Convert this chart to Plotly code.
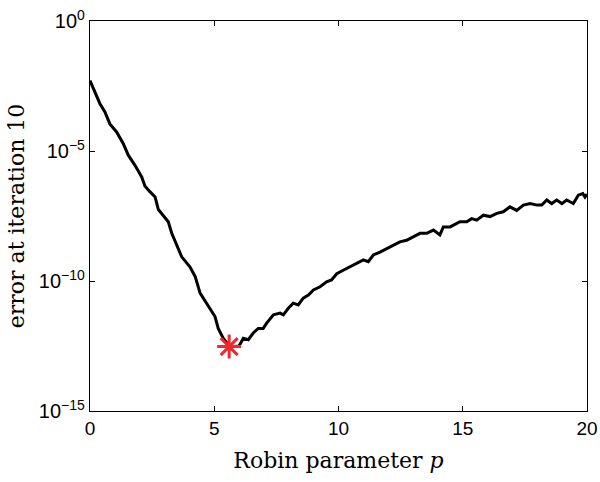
import plotly.graph_objects as go

p_vals = [0.00, 0.20, 0.40, 0.60, 0.80, 1.07, 1.34, 1.54, 1.81, 2.08, 2.21, 2.40, 2.62, 2.75,
          3.02, 3.15, 3.29, 3.50, 3.69, 4.02, 4.23, 4.43, 4.70, 5.03, 5.16, 5.36, 5.60, 5.80,
          6.00, 6.17, 6.37, 6.57, 6.77, 6.97, 7.11, 7.38, 7.65, 7.78, 7.98, 8.18, 8.38, 8.58,
          8.79, 8.99, 9.26, 9.52, 9.72, 9.93, 10.19, 10.46, 10.73, 11.00, 11.20, 11.40, 11.67,
          11.94, 12.20, 12.47, 12.74, 13.01, 13.28, 13.55, 13.82, 14.08, 14.22, 14.49, 14.62,
          14.89, 15.16, 15.36, 15.56, 15.83, 16.10, 16.37, 16.63, 16.90, 17.17, 17.44, 17.71,
          17.98, 18.18, 18.38, 18.58, 18.78, 18.99, 19.18, 19.45, 19.65, 19.83, 19.92, 20.00]
err_vals = [5.1e-3, 1.8e-3, 6.6e-4, 3.2e-4, 1.1e-4, 5.4e-5, 1.9e-5, 6.9e-6, 2.8e-6, 1.0e-6,
            4.5e-7, 2.8e-7, 1.7e-7, 5.6e-8, 2.6e-8, 1.9e-8, 6.8e-9, 2.2e-9, 8.5e-10, 3.5e-10,
            1.5e-10, 3.4e-11, 1.4e-11, 4.3e-12, 1.5e-12, 6.3e-13, 3.2e-13, 3.0e-13, 3.2e-13,
            6.3e-13, 5.5e-13, 1.0e-12, 1.5e-12, 1.5e-12, 2.4e-12, 5.0e-12, 5.8e-12, 5.0e-12,
            8.9e-12, 1.4e-11, 1.2e-11, 2.2e-11, 2.9e-11, 4.5e-11, 6.0e-11, 9.3e-11, 1.1e-10,
            1.9e-10, 2.6e-10, 3.5e-10, 4.8e-10, 6.5e-10, 5.5e-10, 1.0e-9, 1.3e-9, 1.8e-9,
            2.4e-9, 3.2e-9, 3.7e-9, 5.0e-9, 6.8e-9, 6.8e-9, 9.1e-9, 5.9e-9, 1.2e-8, 1.2e-8,
            1.4e-8, 1.9e-8, 1.9e-8, 2.5e-8, 2.2e-8, 3.4e-8, 3.0e-8, 4.0e-8, 4.6e-8, 7.1e-8,
            5.2e-8, 8.3e-8, 9.5e-8, 8.3e-8, 8.3e-8, 1.3e-7, 9.5e-8, 1.3e-7, 9.5e-8, 1.3e-7,
            9.5e-8, 2.0e-7, 2.3e-7, 1.7e-7, 2.2e-7]

opt_p = [5.6]
opt_err = [3.0e-13]

x_ticks = [0, 5, 10, 15, 20]
y_ticks = [1e-15, 1e-10, 1e-5, 1e0]
y_ticktext = ["10<sup>\u221215</sup>", "10<sup>\u221210</sup>", "10<sup>\u22125</sup>", "10<sup>0</sup>"]

fig = go.Figure()
fig.add_trace(go.Scatter(x=p_vals, y=err_vals, mode="lines",
                         line=dict(color="black", width=3), showlegend=False))
fig.add_trace(go.Scatter(x=opt_p, y=opt_err, mode="markers",
                         marker=dict(symbol="asterisk-open", size=20,
                                     line=dict(color="#f0282d", width=3), color="#f0282d"),
                         showlegend=False))

axis_common = dict(showline=True, linecolor="black", linewidth=1.3, mirror="ticks",
                   ticks="inside", ticklen=5, tickwidth=1, tickcolor="black",
                   showgrid=False, zeroline=False, automargin=False)

title_font = dict(family="DejaVu Serif, serif", size=22, color="black")

fig.update_layout(
    width=600, height=482,
    margin=dict(l=90, r=13, t=21, b=71),
    paper_bgcolor="white", plot_bgcolor="white",
    xaxis=dict(range=[0, 20], tickvals=x_ticks, ticktext=[str(v) for v in x_ticks],
               tickfont=dict(family="Liberation Sans, Arial", size=19, color="black"),
               title=dict(text="Robin parameter <i>p</i>", standoff=14, font=title_font),
               **axis_common),
    yaxis=dict(type="log", range=[-15, 0], tickvals=y_ticks, ticktext=y_ticktext,
               tickfont=dict(family="Liberation Sans, Arial", size=20, color="black"),
               title=dict(text="error at iteration 10", standoff=8, font=title_font),
               **axis_common),
)

fig.write_html("out.html")
